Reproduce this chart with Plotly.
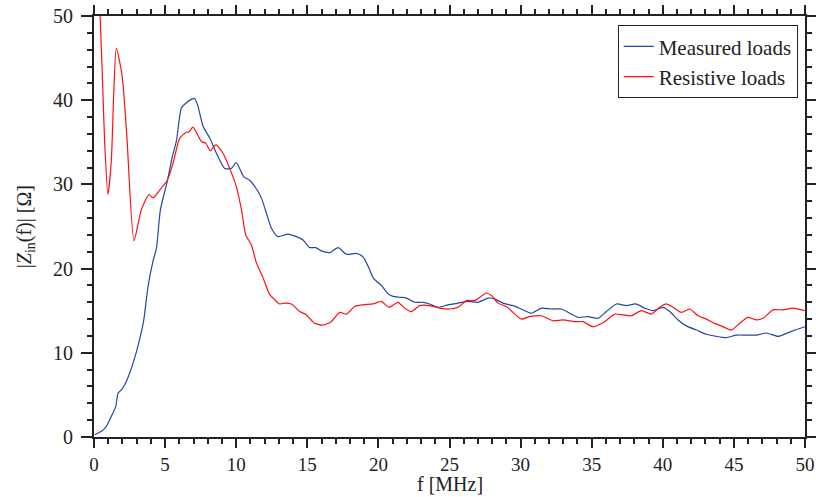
import plotly.graph_objects as go

f_measured = [0.05, 0.52, 0.87, 1.22, 1.53, 1.69, 1.93, 2.16, 2.51, 2.86, 3.21, 3.5, 3.8, 4.15,
              4.39, 4.67, 5.13, 5.51, 5.79, 6.15, 6.5, 6.85, 7.08, 7.31, 7.67, 8.14, 8.61, 9.19,
              9.66, 10.0, 10.53, 10.95, 11.37, 11.77, 12.12, 12.48, 12.94, 13.64, 14.23, 14.7,
              15.17, 15.59, 15.99, 16.58, 17.16, 17.75, 18.45, 18.92, 19.27, 19.67, 20.21, 20.68,
              21.03, 21.5, 21.97, 22.55, 23.14, 23.6, 24.19, 24.9, 25.6, 26.3, 27.0, 27.71, 28.18,
              28.76, 29.47, 30.05, 30.76, 31.46, 32.17, 32.87, 33.45, 34.04, 34.74, 35.44, 36.03,
              36.74, 37.44, 38.09, 38.73, 39.31, 40.01, 40.49, 41.07, 41.66, 42.36, 43.07, 43.77,
              44.47, 45.18, 45.88, 46.58, 47.28, 48.1, 48.69, 49.28, 50.0]
z_measured = [0.27, 0.67, 1.26, 2.45, 3.64, 5.2, 5.6, 6.2, 7.6, 9.4, 11.6, 13.9, 17.9, 20.9,
              22.4, 27.0, 30.2, 33.3, 35.1, 39.1, 39.7, 40.1, 40.2, 39.3, 36.9, 35.5, 33.7, 31.9,
              31.9, 32.6, 30.9, 30.5, 29.6, 28.4, 26.6, 24.8, 23.8, 24.1, 23.8, 23.4,
              22.5, 22.5, 22.1, 21.9, 22.5, 21.7, 21.8, 21.4, 20.3, 18.8, 18.0, 17.0,
              16.7, 16.6, 16.5, 16.0, 16.0, 15.8, 15.4, 15.7, 15.9, 16.1, 16.0, 16.5, 16.4,
              15.9, 15.6, 15.2, 14.7, 15.3, 15.2, 15.2, 14.7, 14.2, 14.3, 14.1, 14.9,
              15.8, 15.6, 15.8, 15.3, 15.0, 15.4, 14.9, 13.9, 13.2, 12.7, 12.2, 11.95,
              11.8, 12.1, 12.1, 12.1, 12.35, 11.95, 12.3, 12.7, 13.1]

f_resistive = [0.1, 0.3, 0.45, 0.59, 0.75, 0.98, 1.22, 1.39, 1.57, 1.97, 2.3, 2.81, 3.33, 3.87,
               4.15, 4.74, 5.13, 5.56, 6.03, 6.5, 6.65, 6.96, 7.55, 7.86, 8.18, 8.56, 9.07, 9.54,
               10.0, 10.37, 10.67, 11.07, 11.42, 11.89, 12.36, 12.71, 13.06, 13.41, 13.88, 14.47,
               14.94, 15.52, 16.1, 16.69, 17.28, 17.75, 18.33, 18.92, 19.62, 20.21, 20.75, 21.38,
               21.85, 22.32, 22.9, 23.6, 24.31, 25.01, 25.6, 26.19, 26.77, 27.6, 27.95, 28.41,
               29.0, 29.47, 30.05, 30.64, 31.46, 32.28, 32.98, 33.8, 34.39, 35.09, 35.91, 36.62,
               37.2, 37.79, 38.5, 39.2, 39.78, 40.25, 40.72, 41.31, 41.89, 42.48, 43.07, 43.65,
               44.12, 44.82, 45.41, 45.99, 46.58, 47.05, 47.75, 48.45, 49.16, 50.0]
z_resistive = [64.0, 55.0, 49.0, 42.8, 34.9, 28.8, 32.9, 40.9, 46.2, 43.0, 36.0, 23.3, 27.0, 28.8,
               28.4, 29.6, 30.4, 32.5, 35.5, 36.2, 36.2, 36.8, 35.1, 34.9, 34.0, 34.7, 33.7, 31.9,
               29.8, 27.0, 24.0, 22.8, 20.7, 18.9, 16.9, 16.3, 15.8, 15.9, 15.8, 14.9,
               14.5, 13.5, 13.3, 13.7, 14.8, 14.6, 15.5, 15.7, 15.8, 16.1, 15.4, 16.0,
               15.3, 14.9, 15.6, 15.6, 15.3, 15.2, 15.4, 16.2, 16.2, 17.1, 16.8, 15.9,
               15.5, 14.8, 14.0, 14.3, 14.4, 13.8, 13.9, 13.7, 13.7, 13.1, 13.7, 14.6,
               14.5, 14.4, 15.0, 14.6, 15.4, 15.8, 15.4, 14.8, 15.2, 14.4, 14.0, 13.5,
               13.2, 12.7, 13.5, 14.2, 13.9, 14.1, 15.1, 15.1, 15.3, 15.0]

x_ticks = [0, 5, 10, 15, 20, 25, 30, 35, 40, 45, 50]
y_ticks = [0, 10, 20, 30, 40, 50]
x_title = "f [MHz]"
y_title = "|<i>Z</i><sub>in</sub>(f)| [Ω]"

FONT = "Liberation Serif"
INK = "#222"

fig = go.Figure()
fig.add_trace(go.Scatter(x=f_measured, y=z_measured, mode="lines", name="Measured loads",
                         line=dict(color="#2446a6", width=1.2, shape="spline", smoothing=0.6)))
fig.add_trace(go.Scatter(x=f_resistive, y=z_resistive, mode="lines", name="Resistive loads",
                         line=dict(color="#ff1010", width=1.2, shape="spline", smoothing=0.6)))

axis_common = dict(
    showline=True, linecolor=INK, linewidth=2, mirror="allticks",
    ticks="outside", tickwidth=1.5, tickcolor=INK,
    showgrid=False, zeroline=False, automargin=False,
)

fig.update_xaxes(range=[0, 50], tickvals=x_ticks, ticklen=9,
                 tickfont=dict(family=FONT, size=19, color=INK),
                 minor=dict(dtick=1, ticks="outside", ticklen=5, tickwidth=1.5, tickcolor=INK, showgrid=False),
                 **axis_common)
fig.update_yaxes(range=[0, 50], tickvals=y_ticks, ticklen=11, ticklabelstandoff=4,
                 tickfont=dict(family=FONT, size=20, color=INK),
                 minor=dict(dtick=2, ticks="outside", ticklen=5, tickwidth=1.5, tickcolor=INK, showgrid=False),
                 **axis_common)

fig.add_annotation(text=x_title, xref="paper", yref="paper", x=0.5, y=-0.112,
                   xanchor="center", yanchor="middle", showarrow=False,
                   font=dict(family=FONT, size=20, color=INK))
fig.add_annotation(text=y_title, xref="paper", yref="paper", x=-0.096, y=0.5,
                   xanchor="center", yanchor="middle", showarrow=False, textangle=-90,
                   font=dict(family=FONT, size=20, color=INK))

fig.update_layout(
    width=816, height=497,
    margin=dict(l=94, r=11, t=16, b=60),
    plot_bgcolor="white", paper_bgcolor="white",
    font=dict(family=FONT, size=20, color=INK),
    legend=dict(x=0.9897, y=0.978, xanchor="right", yanchor="top",
                bordercolor=INK, borderwidth=1, bgcolor="white",
                font=dict(family=FONT, size=21, color=INK),
                tracegroupgap=0, itemwidth=30),
    showlegend=True,
)

fig.write_html("out.html")
